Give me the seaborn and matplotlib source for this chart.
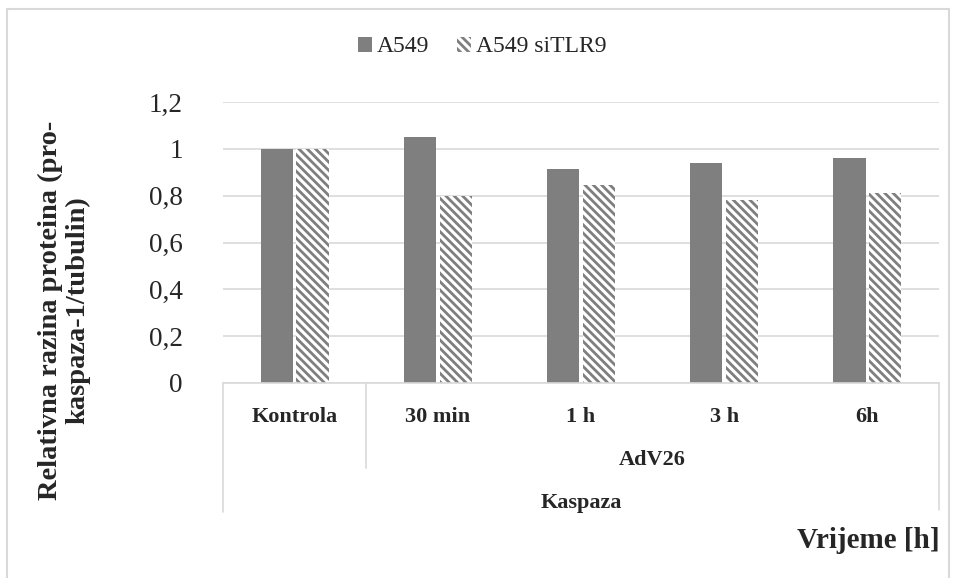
import pandas as pd
import matplotlib.pyplot as plt
import seaborn as sns
from matplotlib.patches import Patch, Rectangle

categories = ['Kontrola', '30 min', '1 h', '3 h', '6h']
a549 = [1.0, 1.05, 0.915, 0.94, 0.96]
a549_sitlr9 = [1.0, 0.80, 0.845, 0.78, 0.81]
series = ['A549', 'A549 siTLR9']
y_ticks = [0, 0.2, 0.4, 0.6, 0.8, 1.0, 1.2]
y_tick_labels = ['0', '0,2', '0,4', '0,6', '0,8', '1', '1,2']

df = pd.DataFrame({
    'kategorija': categories * 2,
    'vrijednost': a549 + a549_sitlr9,
    'serija': [series[0]] * len(categories) + [series[1]] * len(categories),
})

sns.set_style('white')
plt.rcParams['font.family'] = ['Liberation Serif', 'DejaVu Serif']
plt.rcParams['hatch.linewidth'] = 2.0

grey = '#7f7f7f'
fig = plt.figure(figsize=(9.57, 5.78), dpi=100)
ax = fig.add_axes([223 / 957, 1 - 383 / 578, 716 / 957, 281 / 578])

sns.barplot(data=df, x='kategorija', y='vrijednost', hue='serija', order=categories,
            hue_order=series, palette=[grey, grey], width=0.5, gap=0.1,
            linewidth=0, legend=False, ax=ax)

n = len(categories)
for i, p in enumerate(ax.patches[:2 * n]):
    if i >= n:
        p.set_facecolor('white')
        p.set_edgecolor(grey)
        p.set_hatch('\\\\\\\\')
        p.set_linewidth(0)

ax.set_xlim(-0.5, n - 0.5)
ax.set_ylim(0, 1.2)
ax.set_yticks(y_ticks)
ax.set_yticklabels(y_tick_labels, fontsize=19.5)
ax.tick_params(axis='y', length=0, pad=29)
ax.set_xticks([])
ax.set_xlabel('')
ax.set_ylabel('')
ax.yaxis.grid(True, color='#d9d9d9', linewidth=1.2)
ax.set_axisbelow(True)
for s in ['left', 'right', 'top']:
    ax.spines[s].set_visible(False)
ax.spines['bottom'].set_color('#d9d9d9')
ax.spines['bottom'].set_linewidth(1.2)

# hijerarhijske oznake ispod osi x
tr = ax.get_xaxis_transform()
def ay(py):
    return (383 - py) / 281

for x0, y_end in [(-0.5, 512), (0.5, 468), (n - 0.5, 510)]:
    ax.plot([x0, x0], [0, ay(y_end)], color='#d9d9d9', lw=1.2, transform=tr, clip_on=False)

for i, c in enumerate(categories):
    ax.text(i, ay(417), c, transform=tr, ha='center', va='center',
            fontsize=16, fontweight='bold')
ax.text(2.5, ay(460), 'AdV26', transform=tr, ha='center', va='center',
        fontsize=16, fontweight='bold')
ax.text(2, ay(503), 'Kaspaza', transform=tr, ha='center', va='center',
        fontsize=16, fontweight='bold')

fig.text(940 / 957, 1 - 541 / 578, 'Vrijeme [h]', ha='right', va='center',
         fontsize=21, fontweight='bold')
fig.text(64 / 957, 1 - 310 / 578, 'Relativna razina proteina (pro-\nkaspaza-1/tubulin)',
         rotation=90, ha='center', va='center', ma='center',
         fontsize=20.5, fontweight='bold', linespacing=1.1)

handles = [Patch(facecolor=grey, edgecolor=grey, linewidth=0),
           Patch(facecolor='white', edgecolor=grey, hatch='\\\\\\\\', linewidth=0)]
fig.legend(handles, series, loc='center', bbox_to_anchor=(482 / 957, 1 - 47 / 578),
           ncol=2, frameon=False, fontsize=17, handlelength=0.6, handleheight=0.6,
           handletextpad=0.2, columnspacing=1.2)

fig.patches.append(Rectangle((7, -5), 942, 578 - 9 + 5, transform=None,
                             fill=False, edgecolor='#d9d9d9', linewidth=1.5))

fig.savefig('out.png', dpi=100)
